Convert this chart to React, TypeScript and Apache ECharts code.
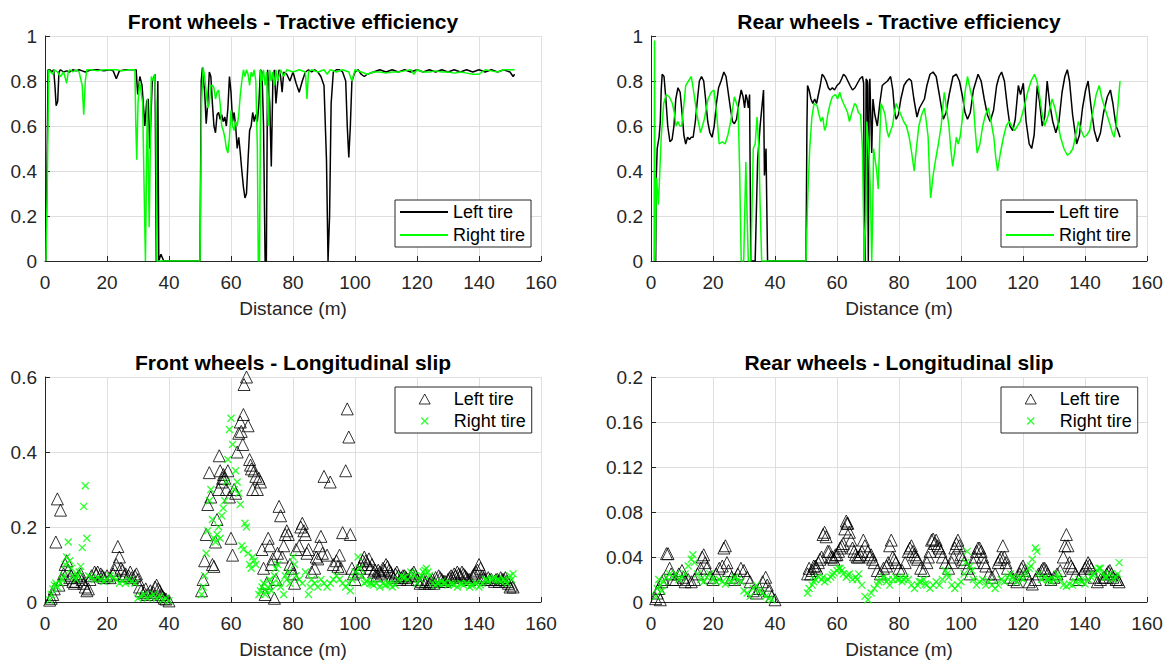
import React, { useEffect, useRef } from "react";
import * as echarts from "echarts";

const FONT = '"Liberation Sans", Arial, Helvetica, sans-serif';
const BLACK = "#000000";
const GREEN = "#00ff00";

const titles = [
  "Front wheels - Tractive efficiency",
  "Rear wheels - Tractive efficiency",
  "Front wheels - Longitudinal slip",
  "Rear wheels - Longitudinal slip",
];
const xAxisName = "Distance (m)";
const legendNames = ["Left tire", "Right tire"];

// [distance (m), tractive efficiency]
const frontLeftEff = [
  [0.3,0],[1.0,0.85],[1.6,0.85],[2.2,0.84],[2.8,0.85],[3.2,0.78],[3.6,0.69],[4.1,0.71],[4.5,0.84],[5,0.85],[6,0.84],[7,0.845],[8,0.84],[9,0.85],[10,0.845],[11,0.85],[12,0.845],[13,0.84],[14,0.845],[15,0.85],[17,0.85],[19,0.845],[21,0.85],[22,0.845],[23,0.81],[24,0.845],[26,0.85],[28,0.85],[29.4,0.85],[29.9,0.74],[30.6,0.82],[31.3,0.78],[32.2,0.6],[32.8,0.71],[33.3,0.72],[33.8,0.5],[34.6,0.8],[35.5,0.83],[35.9,0.0],[36.4,0.8],[36.7,0.0],[37.4,0.03],[38.3,0],[40,0],[45,0],[50,0],[50.4,0.8],[50.8,0.86],[51.5,0.75],[52,0.61],[52.5,0.7],[53,0.84],[53.5,0.82],[54,0.7],[54.5,0.6],[55,0.57],[55.5,0.65],[56,0.66],[56.5,0.63],[57,0.65],[57.5,0.62],[58,0.64],[58.5,0.6],[59,0.68],[59.5,0.82],[60,0.75],[60.5,0.62],[61,0.66],[61.5,0.6],[62,0.5],[62.5,0.55],[63,0.48],[63.5,0.4],[64,0.33],[64.5,0.28],[65,0.3],[65.5,0.45],[66,0.58],[66.5,0.6],[67,0.66],[67.5,0.62],[68,0.65],[68.5,0.62],[69,0.7],[69.5,0.85],[70,0.84],[70.5,0.6],[71,0],[71.4,0],[71.8,0.85],[72.5,0.7],[73,0.42],[73.5,0.8],[74,0.85],[74.5,0.7],[75,0.78],[75.5,0.85],[76,0.82],[76.5,0.75],[77,0.84],[78,0.83],[79,0.8],[80,0.84],[81,0.79],[82,0.75],[83,0.8],[84,0.84],[85,0.85],[86,0.84],[87,0.85],[88,0.84],[89,0.82],[90,0.78],[90.8,0.45],[91.3,0],[91.8,0.2],[92.3,0.7],[93,0.84],[94,0.85],[95,0.85],[96,0.84],[97,0.8],[97.5,0.6],[98,0.46],[98.5,0.6],[99,0.8],[100,0.84],[101,0.85],[102,0.83],[103,0.82],[104,0.83],[106,0.84],[108,0.85],[110,0.84],[112,0.85],[114,0.84],[116,0.85],[118,0.84],[120,0.85],[122,0.84],[124,0.85],[126,0.84],[128,0.85],[130,0.84],[132,0.85],[134,0.84],[136,0.85],[138,0.84],[140,0.85],[142,0.84],[144,0.85],[146,0.84],[148,0.85],[150,0.84],[151,0.82],[151.5,0.83],
];
const frontRightEff = [
  [0.3,0],[0.7,0.3],[1.2,0.85],[2.5,0.83],[3,0.85],[4,0.84],[5,0.82],[6,0.84],[7,0.79],[7.5,0.84],[8,0.85],[9,0.84],[10,0.85],[11,0.84],[12,0.78],[12.5,0.65],[13,0.8],[13.5,0.85],[15,0.85],[17,0.845],[19,0.85],[21,0.85],[23,0.85],[25,0.845],[27,0.85],[29,0.85],[29.3,0.6],[29.6,0.45],[30,0.7],[30.5,0.8],[31,0.75],[31.5,0.7],[32,0.3],[32.4,0],[33,0.72],[33.6,0.15],[34.3,0.82],[34.9,0.8],[35.4,0.83],[35.8,0.7],[36.1,0],[37,0],[40,0],[45,0],[50,0],[50.5,0.7],[51,0.86],[51.5,0.82],[52,0.75],[52.5,0.68],[53,0.7],[53.5,0.78],[54,0.78],[54.5,0.77],[55,0.72],[55.5,0.75],[56,0.76],[56.5,0.7],[57,0.6],[57.5,0.58],[58,0.55],[58.5,0.5],[59,0.48],[59.5,0.55],[60,0.67],[60.5,0.6],[61,0.58],[61.5,0.62],[62,0.6],[62.5,0.65],[63,0.74],[63.5,0.8],[64,0.85],[64.5,0.82],[65,0.85],[65.5,0.83],[66,0.78],[66.5,0.84],[67,0.82],[67.5,0.85],[68,0.8],[68.5,0.5],[68.8,0],[69.2,0],[69.6,0.85],[70,0.8],[70.5,0.85],[71,0.78],[71.5,0.84],[72,0.6],[72.5,0.85],[73,0.8],[73.5,0.84],[74,0.78],[74.5,0.85],[75,0.8],[76,0.85],[77,0.82],[78,0.85],[80,0.84],[82,0.85],[84,0.84],[84.5,0.72],[85,0.84],[86,0.85],[88,0.84],[90,0.85],[91,0.83],[92,0.85],[94,0.84],[96,0.85],[98,0.84],[99,0.8],[100,0.85],[102,0.84],[104,0.83],[106,0.84],[108,0.84],[110,0.835],[112,0.84],[114,0.84],[116,0.845],[118,0.85],[119,0.83],[120,0.85],[122,0.84],[124,0.84],[126,0.845],[128,0.84],[130,0.84],[132,0.835],[134,0.84],[136,0.835],[138,0.83],[140,0.83],[141,0.84],[142,0.85],[144,0.845],[146,0.84],[148,0.85],[150,0.85],[151.5,0.85],
];
const rearLeftEff = [
  [1.0,0],[1.5,0],[1.7,0.37],[2.0,0.5],[2.6,0.55],[3.0,0.62],[3.3,0.76],[3.6,0.83],[4.2,0.82],[4.8,0.72],[5.4,0.6],[6.1,0.53],[6.8,0.54],[7.4,0.6],[8.0,0.72],[8.7,0.77],[9.4,0.75],[10.0,0.66],[10.6,0.56],[11.2,0.52],[11.8,0.55],[12.4,0.54],[13.0,0.55],[13.6,0.55],[14.3,0.62],[15.0,0.72],[15.6,0.8],[16.3,0.82],[17.0,0.8],[17.6,0.72],[18.3,0.62],[19.0,0.57],[19.7,0.55],[20.4,0.6],[21.1,0.7],[21.8,0.77],[22.6,0.8],[23.5,0.84],[24.2,0.82],[24.9,0.75],[25.6,0.68],[26.3,0.62],[26.9,0.61],[27.6,0.63],[28.3,0.7],[29.1,0.76],[29.7,0.73],[30.2,0.68],[30.6,0.74],[31.0,0.72],[31.4,0.68],[31.8,0.74],[32.2,0],[33.6,0],[34.4,0.45],[35.2,0.6],[36.3,0.76],[36.6,0.38],[37.1,0.5],[37.6,0],[40,0],[45,0],[50.0,0],[50.3,0.6],[50.5,0.78],[51.0,0.76],[51.6,0.72],[52.2,0.7],[52.8,0.72],[53.4,0.7],[54.0,0.74],[54.6,0.78],[55.2,0.83],[55.8,0.82],[56.5,0.8],[57.2,0.77],[57.8,0.76],[58.5,0.77],[59.2,0.76],[60.0,0.78],[60.8,0.79],[61.5,0.81],[62.1,0.83],[62.8,0.82],[63.5,0.8],[64.2,0.78],[65.0,0.76],[65.8,0.77],[66.6,0.79],[67.4,0.81],[68.2,0.82],[68.6,0.79],[68.8,0],[69.1,0],[69.4,0.81],[69.8,0.8],[70.1,0],[70.4,0.78],[70.6,0.81],[71.2,0.48],[71.6,0.72],[72.2,0.65],[73.0,0.6],[73.8,0.7],[74.6,0.78],[75.4,0.79],[76.3,0.8],[77.3,0.82],[78.0,0.76],[78.6,0.66],[79.1,0.63],[79.8,0.65],[80.6,0.72],[81.6,0.78],[82.5,0.8],[83.3,0.81],[84.0,0.8],[84.8,0.72],[85.8,0.64],[86.6,0.68],[87.4,0.7],[88.2,0.72],[89.0,0.78],[90.0,0.83],[91.0,0.84],[92.0,0.82],[93.0,0.74],[94.3,0.63],[95.2,0.66],[96.2,0.74],[97.4,0.82],[98.5,0.83],[99.5,0.8],[100.5,0.73],[101.3,0.66],[102.1,0.63],[103.0,0.66],[104.0,0.76],[105.5,0.83],[106.5,0.8],[107.5,0.72],[108.5,0.65],[109.4,0.62],[110.5,0.67],[111.5,0.78],[112.3,0.82],[113.1,0.84],[114.0,0.8],[115.0,0.68],[115.8,0.6],[116.7,0.58],[117.5,0.63],[118.5,0.78],[119.2,0.74],[120.1,0.79],[121.0,0.62],[122.0,0.52],[122.8,0.5],[123.6,0.56],[124.6,0.78],[125.4,0.7],[126.2,0.6],[127.0,0.64],[127.8,0.8],[128.6,0.7],[129.6,0.62],[130.6,0.57],[131.6,0.62],[132.6,0.75],[133.5,0.82],[134.3,0.85],[135.0,0.8],[136.0,0.65],[137.3,0.52],[138.2,0.56],[139.2,0.68],[140.2,0.76],[141.0,0.8],[142.0,0.68],[143.0,0.58],[144.0,0.53],[145.0,0.57],[146.0,0.66],[147.2,0.73],[148.2,0.76],[149.0,0.7],[150.0,0.6],[150.6,0.58],[151.3,0.55],
];
const rearRightEff = [
  [1.0,0],[1.15,0.98],[1.3,0],[1.8,0.37],[2.4,0.25],[3.3,0.55],[4.1,0.7],[4.9,0.74],[5.9,0.73],[6.9,0.7],[7.5,0.66],[8.1,0.6],[8.7,0.62],[9.3,0.6],[9.9,0.6],[10.5,0.68],[11.2,0.78],[12.1,0.8],[13.0,0.82],[13.9,0.74],[14.8,0.65],[16.0,0.57],[17.2,0.63],[18.4,0.72],[19.4,0.75],[20.3,0.76],[21.2,0.65],[22.0,0.52],[23.0,0.53],[23.9,0.52],[24.8,0.56],[25.7,0.62],[26.9,0.73],[27.6,0.7],[28.1,0.68],[28.6,0.4],[29.1,0],[29.9,0],[30.6,0.44],[31.0,0.2],[31.4,0],[32.2,0],[33.0,0.5],[33.6,0.52],[34.2,0.64],[34.8,0.5],[35.2,0.25],[35.7,0],[40,0],[45,0],[50.0,0],[50.6,0.3],[51.2,0.5],[51.9,0.64],[52.6,0.7],[53.6,0.69],[54.2,0.65],[54.8,0.62],[55.4,0.64],[56.0,0.58],[56.5,0.6],[57.0,0.65],[57.8,0.7],[58.5,0.73],[59.5,0.74],[60.2,0.72],[60.9,0.75],[61.5,0.72],[62.1,0.7],[62.8,0.68],[63.4,0.66],[64.0,0.62],[64.8,0.66],[65.7,0.7],[66.3,0.69],[66.9,0.66],[67.6,0.65],[68.2,0.5],[68.8,0],[69.3,0.2],[69.6,0.62],[70.0,0.55],[70.4,0.45],[70.8,0.3],[71.2,0],[71.5,0.2],[71.8,0.5],[72.3,0.45],[72.8,0.4],[73.3,0.32],[73.8,0.55],[74.2,0.7],[74.8,0.68],[75.5,0.65],[76.1,0.58],[76.7,0.55],[77.3,0.58],[77.9,0.6],[78.5,0.66],[79.1,0.7],[79.7,0.68],[80.3,0.66],[80.9,0.64],[81.5,0.62],[82.4,0.6],[83.3,0.55],[84.1,0.48],[84.9,0.4],[85.6,0.5],[86.4,0.6],[87.3,0.65],[88.2,0.68],[88.8,0.62],[89.4,0.55],[89.8,0.4],[90.2,0.28],[91.0,0.38],[91.8,0.45],[92.7,0.52],[93.6,0.6],[94.1,0.68],[94.6,0.75],[95.3,0.68],[96.1,0.6],[96.7,0.5],[97.3,0.42],[97.9,0.48],[98.5,0.55],[99.1,0.52],[99.7,0.55],[100.5,0.64],[101.3,0.75],[102.1,0.82],[103.0,0.76],[104.0,0.7],[104.6,0.58],[105.2,0.48],[106.1,0.52],[107.0,0.6],[107.9,0.65],[108.8,0.68],[109.7,0.62],[110.6,0.55],[111.2,0.46],[111.8,0.4],[112.7,0.48],[113.7,0.55],[114.6,0.6],[115.5,0.62],[116.4,0.6],[117.3,0.58],[118.2,0.6],[119.1,0.62],[120.3,0.68],[121.5,0.75],[122.6,0.8],[123.7,0.83],[124.5,0.8],[125.2,0.75],[126.1,0.66],[127.0,0.6],[128.2,0.65],[129.4,0.72],[130.3,0.68],[131.2,0.62],[132.1,0.55],[133.2,0.5],[134.3,0.47],[135.2,0.48],[136.1,0.5],[137.0,0.56],[137.9,0.62],[138.8,0.58],[139.7,0.55],[140.6,0.56],[141.5,0.58],[142.5,0.66],[143.6,0.74],[144.6,0.78],[145.5,0.72],[146.4,0.68],[147.3,0.64],[148.2,0.6],[148.8,0.57],[149.4,0.55],[150.0,0.6],[150.7,0.7],[151.3,0.8],
];

// [distance (m), longitudinal slip]
const frontLeftSlip = [
  [1.5,0.005],[2,0.01],[2.5,0.02],[3,0.035],[3.5,0.16],[4,0.275],[4.5,0.045],[5,0.245],[5.5,0.06],[6,0.075],[6.5,0.1],[7,0.11],[7.5,0.085],[8,0.065],[8.5,0.07],[9,0.055],[9.5,0.05],[10,0.055],[10.5,0.065],[11,0.07],[11.5,0.075],[12,0.06],[12.5,0.05],[13,0.04],[13.5,0.03],[14,0.035],[14.5,0.06],[15,0.07],[16,0.08],[16.5,0.075],[17,0.08],[18,0.075],[18.5,0.07],[19,0.065],[20,0.07],[21,0.065],[22,0.075],[22.5,0.085],[23,0.1],[23.5,0.148],[24,0.12],[24.5,0.09],[25,0.085],[25.5,0.07],[26,0.075],[27,0.07],[27.5,0.08],[28,0.065],[29,0.07],[29.5,0.075],[30,0.06],[30.5,0.04],[31,0.03],[32,0.025],[32.5,0.035],[33,0.02],[34,0.03],[35,0.025],[35.5,0.04],[36,0.045],[36.5,0.035],[37,0.03],[37.5,0.02],[38,0.015],[38.5,0.01],[39,0.008],[40,0.003],
  [50.5,0.03],[51,0.06],[51.5,0.11],[52,0.18],[52.5,0.26],[53,0.345],[53.5,0.28],[54,0.1],[54.5,0.095],[55,0.16],[55.5,0.22],[56,0.3],[56.2,0.39],[56.5,0.35],[57,0.32],[57.3,0.33],[57.6,0.34],[58,0.33],[58.5,0.3],[59,0.35],[59.5,0.28],[60,0.17],[60.5,0.125],[61,0.3],[61.5,0.29],[62,0.4],[62.5,0.45],[63,0.48],[63.3,0.455],[63.8,0.42],[64,0.5],[64.2,0.58],[65,0.6],[65.5,0.47],[66,0.38],[66.3,0.365],[66.6,0.355],[67,0.3],[67.5,0.35],[68,0.335],[68.5,0.3],[69,0.33],[69.5,0.32],[70,0.14],[70.5,0.09],[71,0.02],[71.5,0.05],[72,0.17],[72.5,0.15],[73,0.1],[73.5,0.115],[74,0.01],[74.5,0.06],[75,0.13],[75.5,0.255],[76,0.23],[76.5,0.12],[77,0.15],[77.5,0.18],[78,0.19],[78.5,0.18],[79,0.1],[79.5,0.09],[80,0.075],[80.5,0.05],[81,0.14],[82,0.15],[82.5,0.2],[83,0.21],[83.5,0.19],[84,0.18],[84.5,0.13],[85,0.14],[86,0.08],[87,0.09],[87.5,0.12],[88,0.115],[88.5,0.15],[89,0.175],[89.5,0.13],[90,0.335],[91,0.125],[92,0.32],[93,0.1],[94,0.11],[94.5,0.095],[95,0.125],[95.5,0.09],[96,0.185],[97,0.35],[97.5,0.515],[98,0.44],[98.5,0.18],[99,0.09],[99.5,0.075],[100,0.06],
  [101,0.08],[101.5,0.09],[102,0.1],[102.5,0.11],[103,0.12],[103.5,0.11],[104,0.1],[104.5,0.115],[105,0.09],[105.5,0.1],[106,0.08],[106.5,0.085],[107,0.07],[107.5,0.085],[108,0.08],[108.5,0.075],[109,0.09],[109.5,0.085],[110,0.1],[110.5,0.095],[111,0.085],[111.5,0.08],[112,0.07],[112.5,0.065],[113,0.075],[113.5,0.08],[114,0.07],[114.5,0.06],[115,0.065],[115.5,0.07],[116,0.07],[116.5,0.065],[117,0.06],[118,0.07],[118.5,0.075],[119,0.08],[119.5,0.07],[120,0.06],[121,0.05],[121.5,0.055],[122,0.06],[122.5,0.05],[123,0.055],[124,0.05],[124.5,0.055],[125,0.06],[125.5,0.05],[126,0.065],[127,0.07],[127.5,0.065],[128,0.06],[128.5,0.055],[129,0.055],[130,0.06],[130.5,0.065],[131,0.07],[131.5,0.065],[132,0.075],[132.5,0.07],[133,0.08],[133.5,0.075],[134,0.07],[134.5,0.08],[135,0.075],[135.5,0.07],[136,0.065],[136.5,0.06],[137,0.06],[138,0.07],[138.5,0.075],[139,0.08],[139.5,0.085],[140,0.1],[140.5,0.09],[141,0.07],[141.5,0.065],[142,0.06],[143,0.065],[143.5,0.06],[144,0.06],[145,0.055],[145.5,0.06],[146,0.06],[146.5,0.055],[147,0.065],[147.5,0.06],[148,0.06],[148.5,0.065],[149,0.055],[149.5,0.05],[150,0.04],[150.5,0.045],[151,0.04],
];
const frontRightSlip = [
  [1.5,0.005],[2,0.02],[2.5,0.035],[3,0.045],[3.5,0.05],[4,0.04],[5,0.05],[5.5,0.06],[6,0.07],[6.5,0.1],[7,0.12],[7.5,0.16],[8,0.11],[8.5,0.09],[9,0.07],[9.5,0.065],[10,0.06],[10.5,0.07],[11,0.08],[11.5,0.095],[12,0.145],[12.5,0.255],[13,0.31],[13.5,0.17],[14,0.07],[15,0.065],[16,0.06],[17,0.065],[18,0.06],[19,0.055],[20,0.06],[21,0.07],[22,0.065],[23,0.06],[24,0.05],[25,0.055],[26,0.05],[27,0.06],[28,0.055],[29,0.05],[30,0.01],[31,0.015],[32,0.02],[33,0.01],[34,0.015],[35,0.02],[36,0.01],[37,0.015],[38,0.005],[39,0.01],[40,0.003],
  [50.5,0.02],[51,0.04],[51.5,0.07],[52,0.13],[52.5,0.19],[53,0.27],[53.5,0.3],[54,0.22],[54.5,0.17],[55,0.16],[55.5,0.18],[56,0.2],[56.5,0.17],[57,0.23],[57.5,0.25],[58,0.27],[58.5,0.32],[59,0.38],[59.5,0.46],[60,0.49],[60.5,0.42],[61,0.3],[61.5,0.35],[62,0.32],[62.5,0.29],[63,0.26],[63.5,0.15],[64,0.14],[64.5,0.21],[65,0.2],[65.5,0.13],[66,0.1],[66.5,0.09],[67,0.12],[67.5,0.11],[68,0.1],[69,0.02],[69.5,0.03],[70,0.04],[70.5,0.05],[71,0.02],[71.5,0.03],[72,0.04],[72.5,0.06],[73,0.03],[73.5,0.05],[74,0.07],[74.5,0.09],[75,0.1],[75.5,0.05],[76,0.04],[77,0.02],[77.5,0.07],[78,0.06],[78.5,0.08],[79,0.05],[80,0.12],[80.5,0.1],[81,0.07],[82,0.06],[83,0.05],[84,0.08],[85,0.02],[85.5,0.04],[86,0.06],[87,0.05],[88,0.04],[89,0.06],[90,0.05],[91,0.04],[92,0.05],[93,0.06],[94,0.07],[95,0.06],[96,0.05],[97,0.04],[98,0.05],[98.5,0.03],[99,0.06],[100,0.08],
  [101,0.12],[101.5,0.09],[102,0.07],[103,0.05],[103.5,0.055],[104,0.055],[105,0.05],[105.5,0.048],[106,0.045],[107,0.05],[108,0.04],[109,0.05],[109.5,0.045],[110,0.045],[111,0.05],[111.5,0.048],[112,0.04],[113,0.045],[114,0.06],[115,0.07],[115.5,0.065],[116,0.065],[117,0.06],[118,0.08],[118.5,0.075],[119,0.07],[120,0.05],[121,0.06],[121.5,0.07],[122,0.08],[122.5,0.085],[123,0.09],[123.5,0.08],[124,0.07],[125,0.05],[126,0.045],[126.5,0.05],[127,0.05],[128,0.055],[128.5,0.05],[129,0.05],[130,0.045],[131,0.05],[131.5,0.048],[132,0.045],[133,0.04],[134,0.05],[134.5,0.048],[135,0.045],[136,0.05],[137,0.04],[137.5,0.045],[138,0.045],[139,0.05],[140,0.04],[140.5,0.045],[141,0.05],[142,0.06],[142.5,0.058],[143,0.055],[144,0.06],[144.5,0.062],[145,0.065],[146,0.06],[146.5,0.058],[147,0.055],[148,0.06],[148.5,0.055],[149,0.05],[150,0.07],[150.5,0.06],[151,0.075],
];
const rearLeftSlip = [
  [1.5,0.003],[2,0.008],[2.5,0.012],[3,0.002],[3.5,0.018],[4,0.02],[5,0.043],[5.5,0.043],[6,0.03],[6.5,0.025],[7,0.02],[8,0.02],[9,0.025],[10,0.028],[10.5,0.022],[11,0.018],[12,0.02],[13,0.018],[14,0.02],[15,0.025],[16,0.03],[16.5,0.04],[17,0.042],[17.5,0.035],[18,0.03],[19,0.022],[20,0.02],[21,0.025],[22,0.03],[23,0.032],[23.5,0.048],[24,0.05],[24.5,0.035],[25,0.028],[26,0.022],[27,0.02],[28,0.025],[29,0.03],[30,0.028],[31,0.022],[32,0.018],[33,0.01],[34,0.008],[35,0.012],[36,0.018],[37,0.022],[37.5,0.015],[38,0.01],[39,0.005],[40,0.002],
  [50.5,0.025],[51,0.03],[51.5,0.025],[52,0.028],[52.5,0.032],[53,0.032],[53.5,0.03],[54,0.035],[54.5,0.038],[55,0.04],[55.5,0.06],[56,0.062],[56.5,0.058],[57,0.045],[57.5,0.045],[58,0.04],[58.5,0.04],[59,0.038],[59.5,0.042],[60,0.042],[60.5,0.045],[61,0.048],[61.5,0.05],[62,0.052],[62.5,0.065],[63,0.072],[63.2,0.07],[63.5,0.07],[64,0.062],[64.5,0.055],[65,0.048],[65.5,0.045],[66,0.042],[66.5,0.04],[67,0.04],[67.5,0.042],[68,0.045],[68.5,0.055],[69,0.05],[70,0.045],[70.5,0.04],[71,0.042],[71.5,0.038],[72,0.035],[73,0.028],[74,0.025],[75,0.03],[76,0.032],[76.5,0.035],[77,0.05],[77.5,0.055],[78,0.04],[78.5,0.038],[79,0.035],[80,0.03],[81,0.028],[82,0.035],[83,0.045],[83.5,0.048],[84,0.05],[84.5,0.045],[85,0.042],[85.5,0.04],[86,0.038],[87,0.03],[88,0.028],[89,0.035],[89.5,0.04],[90,0.045],[90.5,0.055],[91,0.056],[91.5,0.052],[92,0.055],[92.5,0.05],[93,0.048],[93.5,0.045],[94,0.04],[95,0.035],[96,0.03],[97,0.035],[97.5,0.04],[98,0.048],[98.5,0.052],[99,0.055],[99.5,0.05],[100,0.042],[100.5,0.038],
  [101,0.035],[102,0.03],[103,0.025],[104,0.035],[104.5,0.04],[105,0.045],[105.5,0.048],[106,0.048],[106.5,0.045],[107,0.04],[107.5,0.035],[108,0.032],[109,0.025],[110,0.022],[111,0.025],[112,0.035],[112.5,0.038],[113,0.04],[113.5,0.05],[114,0.04],[114.5,0.035],[115,0.03],[116,0.022],[117,0.02],[118,0.018],[119,0.025],[119.5,0.03],[120,0.032],[120.5,0.028],[121,0.025],[122,0.018],[123,0.016],[124,0.02],[125,0.025],[126,0.028],[126.5,0.03],[127,0.03],[127.5,0.028],[128,0.025],[129,0.02],[130,0.022],[131,0.025],[132,0.028],[133,0.04],[133.5,0.05],[134,0.06],[134.5,0.05],[135,0.035],[135.5,0.032],[136,0.03],[137,0.025],[138,0.02],[139,0.025],[140,0.03],[140.5,0.032],[141,0.035],[141.5,0.033],[142,0.03],[143,0.022],[144,0.018],[145,0.02],[146,0.022],[146.5,0.022],[147,0.025],[147.5,0.027],[148,0.028],[148.5,0.025],[149,0.022],[150,0.02],[150.5,0.02],[151,0.018],
];
const rearRightSlip = [
  [1.5,0.005],[2,0.012],[2.5,0.02],[3,0.015],[3.5,0.01],[4,0.018],[5,0.022],[6,0.025],[7,0.022],[8,0.025],[9,0.02],[10,0.022],[11,0.025],[12,0.032],[13,0.038],[13.5,0.042],[14,0.035],[15,0.025],[16,0.02],[17,0.018],[18,0.022],[19,0.025],[20,0.02],[21,0.018],[22,0.02],[23,0.018],[24,0.016],[25,0.02],[26,0.018],[27,0.022],[28,0.02],[29,0.018],[30,0.01],[31,0.008],[32,0.005],[33,0.012],[34,0.015],[35,0.01],[36,0.008],[37,0.005],[38,0.003],[39,0.002],
  [50.5,0.008],[51,0.012],[52,0.015],[52.5,0.018],[53,0.02],[54,0.022],[55,0.02],[55.5,0.022],[56,0.018],[57,0.02],[58,0.022],[58.5,0.024],[59,0.026],[60,0.028],[60.5,0.03],[61,0.03],[61.5,0.028],[62,0.025],[63,0.022],[63.5,0.024],[64,0.025],[65,0.02],[66,0.022],[66.5,0.02],[67,0.025],[68,0.015],[69,0.005],[70,0.002],[71,0.008],[72,0.012],[73,0.015],[73.5,0.018],[74,0.02],[75,0.022],[76,0.018],[76.5,0.02],[77,0.015],[78,0.02],[79,0.022],[79.5,0.02],[80,0.02],[81,0.018],[81.5,0.02],[82,0.022],[83,0.02],[84,0.015],[85,0.012],[86,0.015],[86.5,0.018],[87,0.018],[88,0.02],[88.5,0.016],[89,0.015],[90,0.012],[91,0.015],[92,0.018],[93,0.015],[94,0.02],[95,0.028],[95.5,0.025],[96,0.022],[97,0.015],[98,0.012],[99,0.015],[100,0.018],
  [101,0.025],[101.5,0.035],[102,0.045],[103,0.032],[103.5,0.028],[104,0.02],[105,0.015],[106,0.018],[107,0.02],[108,0.015],[109,0.018],[110,0.015],[111,0.012],[112,0.015],[113,0.02],[114,0.018],[115,0.022],[116,0.025],[116.5,0.022],[117,0.02],[118,0.018],[119,0.022],[120,0.02],[121,0.025],[122,0.03],[122.5,0.032],[123,0.038],[124,0.048],[124.5,0.045],[125,0.025],[126,0.02],[127,0.022],[128,0.02],[128.5,0.02],[129,0.018],[130,0.02],[131,0.025],[131.5,0.022],[132,0.02],[133,0.015],[134,0.014],[135,0.016],[136,0.015],[137,0.018],[138,0.02],[138.5,0.019],[139,0.018],[140,0.016],[141,0.02],[142,0.022],[142.5,0.024],[143,0.025],[144,0.028],[144.5,0.03],[145,0.03],[146,0.025],[146.5,0.022],[147,0.022],[148,0.025],[149,0.02],[150,0.022],[150.5,0.025],[151,0.035],
];

const X_SYMBOL = "path://M0,0L10,10M10,0L0,10";
// legend icons padded (invisible move-to points) to the full 48x12 legend item box
const TRI_LEGEND_ICON = "path://M0,0M18.5,11L24,1L29.5,11ZM48,12";
const X_LEGEND_ICON = "path://M0,0M20.5,2.5L27.5,9.5M27.5,2.5L20.5,9.5M48,12";
const SLIP_SUFFIX = " (slip)";

export default function App() {
  const ref = useRef<HTMLDivElement>(null);

  useEffect(() => {
    if (!ref.current) return;
    const chart = echarts.init(ref.current, undefined, { renderer: "svg" });

    const grids = [
      { left: 45, top: 36, width: 496, height: 225 },
      { left: 651, top: 36, width: 496, height: 225 },
      { left: 45, top: 377, width: 496, height: 225 },
      { left: 651, top: 377, width: 496, height: 225 },
    ];
    const yMax = [1, 1, 0.6, 0.2];
    const yInt = [0.2, 0.2, 0.2, 0.04];

    const axisColor = "#262626";
    const gridColor = "#dfdfdf";

    const xAxes = grids.map((_, i) => ({
      type: "value",
      gridIndex: i,
      min: 0,
      max: 160,
      interval: 20,
      name: xAxisName,
      nameLocation: "middle",
      nameGap: 38,
      nameTextStyle: { fontSize: 19, fontFamily: FONT, color: axisColor },
      axisLine: { show: true, onZero: false, lineStyle: { color: axisColor, width: 1 } },
      axisTick: { show: true, inside: true, length: 5, lineStyle: { color: axisColor } },
      axisLabel: { fontSize: 19, fontFamily: FONT, color: axisColor, margin: 12 },
      splitLine: { show: true, lineStyle: { color: gridColor, width: 1 } },
    }));
    const yAxes = grids.map((_, i) => ({
      type: "value",
      gridIndex: i,
      min: 0,
      max: yMax[i],
      interval: yInt[i],
      axisLine: { show: true, lineStyle: { color: axisColor, width: 1 } },
      axisTick: { show: true, inside: true, length: 5, lineStyle: { color: axisColor } },
      axisLabel: { fontSize: 19, fontFamily: FONT, color: axisColor, margin: 8 },
      splitLine: { show: true, lineStyle: { color: gridColor, width: 1 } },
    }));

    const lineSeries = (name: string, data: number[][], idx: number, color: string) => ({
      type: "line",
      name,
      xAxisIndex: idx,
      yAxisIndex: idx,
      data,
      symbol: "none",
      showSymbol: false,
      lineStyle: { color, width: 1.5 },
      itemStyle: { color },
      emphasis: { disabled: true },
    });

    const triStyle = { color: "rgba(0,0,0,0)", borderColor: BLACK, borderWidth: 1 };
    const xStyle = { color: "rgba(0,0,0,0)", borderColor: GREEN, borderWidth: 1.4 };

    const triSeries = (data: number[][], idx: number) => ({
      type: "scatter",
      name: legendNames[0] + SLIP_SUFFIX,
      xAxisIndex: idx,
      yAxisIndex: idx,
      data,
      symbol: "triangle",
      symbolSize: 12,
      itemStyle: triStyle,
      emphasis: { disabled: true },
    });
    const xSeries = (data: number[][], idx: number) => ({
      type: "scatter",
      name: legendNames[1] + SLIP_SUFFIX,
      xAxisIndex: idx,
      yAxisIndex: idx,
      data,
      symbol: X_SYMBOL,
      symbolSize: 7,
      itemStyle: xStyle,
      emphasis: { disabled: true },
    });

    const legendBase = {
      orient: "vertical",
      itemWidth: 48,
      itemGap: 5,
      padding: [3, 6, 3, 5],
      borderColor: axisColor,
      borderWidth: 1,
      backgroundColor: "#ffffff",
      selectedMode: false,
      textStyle: { fontSize: 18, fontFamily: FONT, color: "#000" },
    };
    const lineLegendData = [
      { name: legendNames[0], icon: "rect", itemStyle: { color: BLACK } },
      { name: legendNames[1], icon: "rect", itemStyle: { color: GREEN } },
    ];
    const slipLegendData = [
      { name: legendNames[0] + SLIP_SUFFIX, icon: TRI_LEGEND_ICON, itemStyle: triStyle },
      { name: legendNames[1] + SLIP_SUFFIX, icon: X_LEGEND_ICON, itemStyle: xStyle },
    ];
    const slipFormatter = (n: string) => n.replace(SLIP_SUFFIX, "");

    const titlePos = [
      [293, 21],
      [899, 21],
      [293, 362],
      [899, 362],
    ];

    chart.setOption({
      animation: false,
      backgroundColor: "#ffffff",
      grid: grids,
      xAxis: xAxes,
      yAxis: yAxes,
      legend: [
        { ...legendBase, itemHeight: 2, left: 395, top: 200, data: lineLegendData },
        { ...legendBase, itemHeight: 2, left: 1001, top: 200, data: lineLegendData },
        { ...legendBase, itemHeight: 12, itemGap: 4, left: 395, top: 387, data: slipLegendData, formatter: slipFormatter },
        { ...legendBase, itemHeight: 12, itemGap: 4, left: 1001, top: 387, data: slipLegendData, formatter: slipFormatter },
      ],
      graphic: titles.map((t, i) => ({
        type: "text",
        x: titlePos[i][0],
        y: titlePos[i][1],
        silent: true,
        style: {
          text: t,
          fontSize: 21,
          fontWeight: "bold",
          fontFamily: FONT,
          fill: "#000",
          align: "center",
          verticalAlign: "middle",
        },
      })),
      series: [
        lineSeries(legendNames[0], frontLeftEff, 0, BLACK),
        lineSeries(legendNames[1], frontRightEff, 0, GREEN),
        lineSeries(legendNames[0], rearLeftEff, 1, BLACK),
        lineSeries(legendNames[1], rearRightEff, 1, GREEN),
        triSeries(frontLeftSlip, 2),
        xSeries(frontRightSlip, 2),
        triSeries(rearLeftSlip, 3),
        xSeries(rearRightSlip, 3),
      ],
    });

    return () => chart.dispose();
  }, []);

  return (
    <div
      ref={ref}
      style={{ position: "fixed", left: 0, top: 0, width: 1173, height: 662, background: "#fff" }}
    />
  );
}
